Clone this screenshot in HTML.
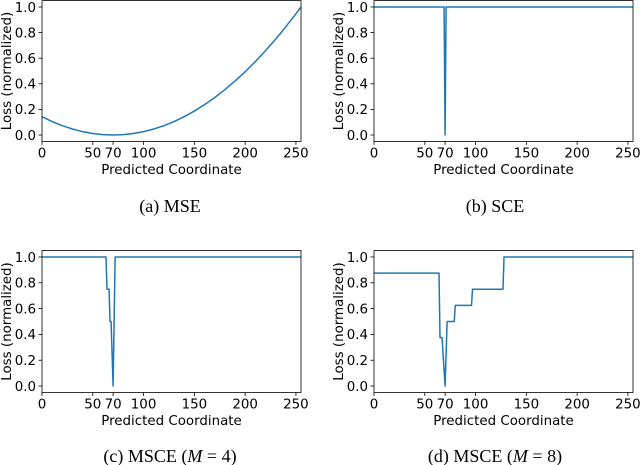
<!DOCTYPE html>
<html><head><meta charset="utf-8"><style>
html,body{margin:0;padding:0;background:#fff;width:640px;height:465px;overflow:hidden}
svg text{font-family:"DejaVu Sans","Liberation Sans",sans-serif;font-size:13.4px;fill:#000}
svg text.cap{font-family:"Liberation Serif",serif;font-size:18px}
</style></head><body>
<svg id="fig" width="640" height="465" viewBox="0 0 640 465" xmlns="http://www.w3.org/2000/svg"></svg>
<script>
const xTicks = [0, 50, 70, 100, 150, 200, 250];
const yTicks = [0.0, 0.2, 0.4, 0.6, 0.8, 1.0];
const mseX = [0,10,20,30,40,50,60,70,80,90,100,110,120,130,140,150,160,170,180,190,200,210,220,230,240,250,255];
const mseY = [0.143,0.105,0.073,0.047,0.026,0.012,0.003,0,0.003,0.012,0.026,0.047,0.073,0.105,0.143,0.187,0.237,0.292,0.354,0.421,0.494,0.573,0.658,0.748,0.845,0.947,1.0];
const sceX = [0,69,70,71,255];
const sceY = [1,1,0,1,1];
const m4X = [0,63,64,66,67,68,70,72,255];
const m4Y = [1,1,0.75,0.75,0.5,0.5,0,1,1];
const m8X = [0,64,65,67,68,70,72,79,80,96,97,127,128,255];
const m8Y = [0.875,0.875,0.375,0.375,0.25,0,0.5,0.5,0.625,0.625,0.75,0.75,1,1];
const captions = [["(a) MSE"],["(b) SCE"],["(c) MSCE (","M"," = 4)"],["(d) MSCE (","M"," = 8)"]];

const svg = document.getElementById('fig');
const NS = 'http://www.w3.org/2000/svg';
function mk(tag, attrs, parent){const e=document.createElementNS(NS,tag);for(const k in attrs)e.setAttribute(k,attrs[k]);parent.appendChild(e);return e;}

const panels = [
 {x0:42,x1:301,top:0.6,bot:141.4,xs:mseX,ys:mseY,capY:212,capX:170,name:'mse'},
 {x0:374,x1:633,top:0.6,bot:141.4,xs:sceX,ys:sceY,capY:212,capX:495,name:'sce'},
 {x0:42,x1:301,top:250.5,bot:392.5,xs:m4X,ys:m4Y,capY:462,capX:170,name:'msce-m4'},
 {x0:374,x1:633,top:250.5,bot:392.5,xs:m8X,ys:m8Y,capY:462,capX:495,name:'msce-m8'}
];
panels.forEach((p,i)=>{
  const g = mk('g',{},svg);
  
  
  const sx = v => p.x0 + (v/255)*(p.x1-p.x0);
  const sy = v => p.bot - (v+0.05)/1.1*(p.bot-p.top);
  const d = p.xs.map((x,j)=>(j?'L':'M')+sx(x).toFixed(2)+','+sy(p.ys[j]).toFixed(2)).join(' ');
  const line = mk('path',{d:d,fill:'none',stroke:'#1f77b4','stroke-width':1.5,'stroke-linejoin':'round'},g);
  
  
  const frame = mk('rect',{x:p.x0,y:p.top,width:p.x1-p.x0,height:p.bot-p.top,fill:'none',stroke:'#000','stroke-width':0.8},g);
  
  
  xTicks.forEach(t=>{
    const X=sx(t);
    mk('line',{x1:X,x2:X,y1:p.bot,y2:p.bot+3.5,stroke:'#000','stroke-width':0.8},g);
    const tx=mk('text',{x:X,y:p.bot+16,'text-anchor':'middle'},g);
    tx.textContent=String(t);
    
    
  });
  yTicks.forEach(t=>{
    const Y=sy(t);
    mk('line',{x1:p.x0-3.5,x2:p.x0,y1:Y,y2:Y,stroke:'#000','stroke-width':0.8},g);
    const ty=mk('text',{x:p.x0-6,y:Y+4.8,'text-anchor':'end'},g);
    ty.textContent=t.toFixed(1);
    
    
  });
  const xl=mk('text',{x:(p.x0+p.x1)/2,y:p.bot+32.5,'text-anchor':'middle'},g);
  xl.textContent='Predicted Coordinate';
  
  
  const cy=(p.top+p.bot)/2, cx=p.x0-31;
  const yl=mk('text',{x:cx,y:cy,'text-anchor':'middle',transform:'rotate(-90 '+cx+' '+cy+')'},g);
  yl.textContent='Loss (normalized)';
  
  
  const cap=mk('text',{x:p.capX,y:p.capY,'text-anchor':'middle','class':'cap'},g);
  const c=captions[i];
  cap.appendChild(document.createTextNode(c[0]));
  if(c.length>1){
    const it=mk('tspan',{'font-style':'italic'},cap); it.textContent=c[1];
    cap.appendChild(document.createTextNode(c[2]));
  }
  
  
});
</script>
</body></html>
